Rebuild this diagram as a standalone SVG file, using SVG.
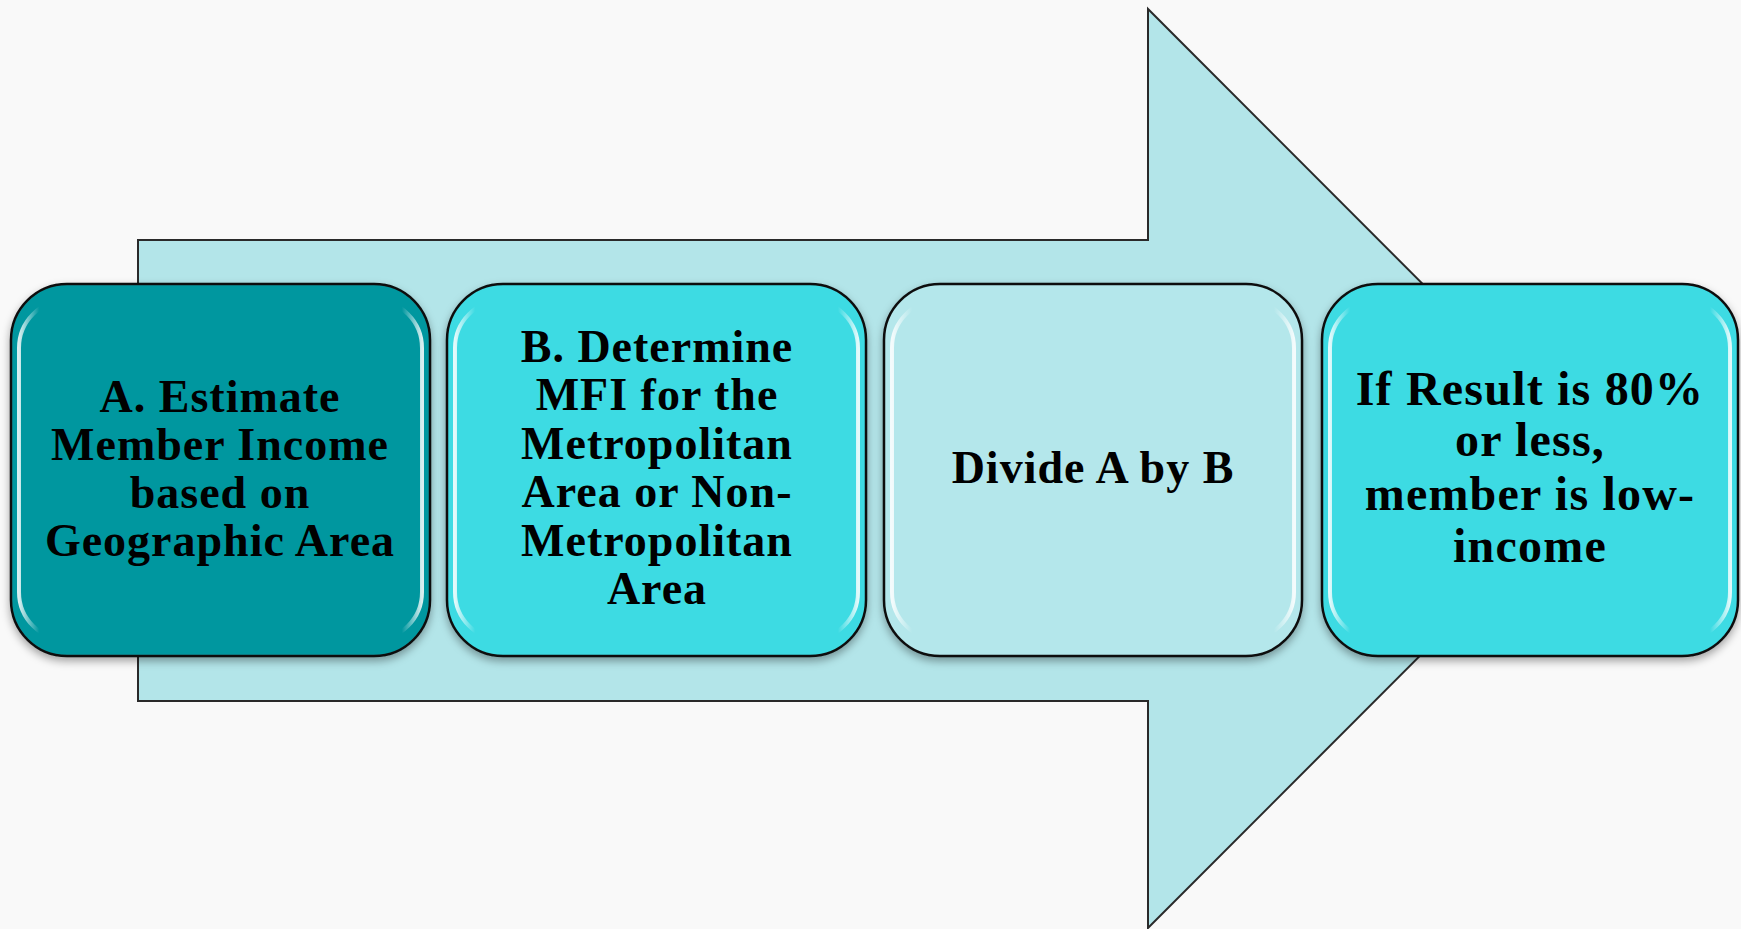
<svg xmlns="http://www.w3.org/2000/svg" width="1741" height="929" viewBox="0 0 1741 929">
<defs>
<filter id="shadow" x="-10%" y="-10%" width="120%" height="125%">
<feDropShadow dx="0" dy="4" stdDeviation="4" flood-color="#000" flood-opacity="0.35"/>
</filter>
<linearGradient id="gloss" x1="0" y1="0" x2="1" y2="0">
<stop offset="0" stop-color="#fff" stop-opacity="0.85"/>
<stop offset="0.05" stop-color="#fff" stop-opacity="0"/>
<stop offset="0.95" stop-color="#fff" stop-opacity="0"/>
<stop offset="1" stop-color="#fff" stop-opacity="0.85"/>
</linearGradient>
<style>
.bg{fill:#f9f9f9}
.arrow{fill:#b3e5e9;stroke:#2a2a2a;stroke-width:2;stroke-linejoin:miter}
.box{stroke:#111;stroke-width:2.5;filter:url(#shadow)}
.hl{fill:none;stroke:url(#gloss);stroke-width:4}
.dark{fill:#06979f}
.mid{fill:#3edbe3}
.light{fill:#b4e7eb}
.t{font-family:"Liberation Serif","Times New Roman",serif;font-weight:bold;font-size:46px;letter-spacing:1px;fill:#000;text-anchor:middle}
.t4{font-size:48px;letter-spacing:1.2px}
</style>
</defs>
<rect class="bg" x="0" y="0" width="1741" height="929"/>
<g id="background-arrow">
<polygon class="arrow" points="138,240 1148,240 1148,9 1607,468.5 1148,928 1148,701 138,701"/>
</g>
<g id="node-a">
<rect class="box dark" x="11" y="284" width="419" height="372" rx="56" ry="56"/>
<rect class="hl" x="19" y="300" width="403" height="340" rx="48" ry="48"/>
<text class="t" x="220"><tspan x="220" y="412">A. Estimate</tspan><tspan x="220" y="460">Member Income</tspan><tspan x="220" y="508">based on</tspan><tspan x="220" y="556">Geographic Area</tspan></text>
</g>
<g id="node-b">
<rect class="box mid" x="447" y="284" width="419" height="372" rx="56" ry="56"/>
<rect class="hl" x="455" y="300" width="403" height="340" rx="48" ry="48"/>
<text class="t" x="657"><tspan x="657" y="362">B. Determine</tspan><tspan x="657" y="410">MFI for the</tspan><tspan x="657" y="459">Metropolitan</tspan><tspan x="657" y="507">Area or Non-</tspan><tspan x="657" y="556">Metropolitan</tspan><tspan x="657" y="604">Area</tspan></text>
</g>
<g id="node-c">
<rect class="box light" x="884" y="284" width="418" height="372" rx="56" ry="56"/>
<rect class="hl" x="892" y="300" width="402" height="340" rx="48" ry="48"/>
<text class="t" x="1093" y="483">Divide A by B</text>
</g>
<g id="node-d">
<rect class="box mid" x="1322" y="284" width="416" height="372" rx="56" ry="56"/>
<rect class="hl" x="1330" y="300" width="400" height="340" rx="48" ry="48"/>
<text class="t t4" x="1530"><tspan x="1530" y="405">If Result is 80%</tspan><tspan x="1530" y="456">or less,</tspan><tspan x="1530" y="510">member is low-</tspan><tspan x="1530" y="562">income</tspan></text>
</g>
</svg>
